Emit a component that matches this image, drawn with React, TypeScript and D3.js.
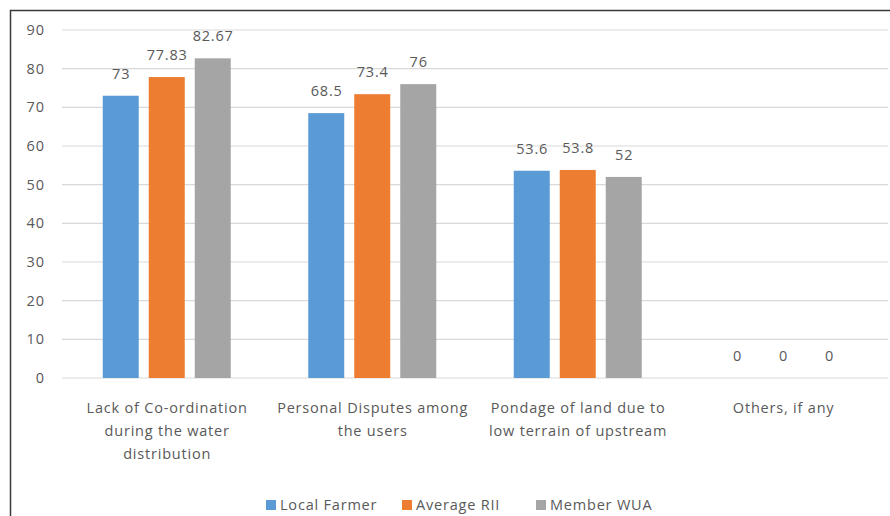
import React, { useEffect } from "react";
import * as d3 from "d3";

const categories = [
  ["Lack of Co-ordination", "during the water", "distribution"],
  ["Personal Disputes among", "the users"],
  ["Pondage of land due to", "low terrain of upstream"],
  ["Others, if any"],
];
const seriesNames = ["Local Farmer", "Average RII", "Member WUA"];
const localFarmer = [73, 68.5, 53.6, 0];
const averageRII = [77.83, 73.4, 53.8, 0];
const memberWUA = [82.67, 76, 52, 0];
const yTicks = [0, 10, 20, 30, 40, 50, 60, 70, 80, 90];
const colors = ["#5B9BD5", "#ED7D31", "#A5A5A5"];

const W = 890;
const H = 516;
const FONT = "'Open Sans', sans-serif";
const TEXT = "#595959";
const FS = 14.5;
const LS = 0.8;

export default function App() {
  useEffect(() => {
    document.body.style.margin = "0";
  }, []);

  const series = [localFarmer, averageRII, memberWUA];
  const x = d3
    .scaleBand<number>()
    .domain(d3.range(categories.length))
    .range([64, 886]);
  const groupW = 128;
  const inner = d3
    .scaleBand<number>()
    .domain(d3.range(series.length))
    .range([0, groupW])
    .paddingInner(0.2174);
  const y = d3.scaleLinear().domain([0, 90]).range([378, 30]);
  const groupOffset = (x.bandwidth() - groupW) / 2;

  const legendItems = [
    { x: 266, label: seriesNames[0] },
    { x: 402, label: seriesNames[1] },
    { x: 536, label: seriesNames[2] },
  ];

  return (
    <svg
      width={W}
      height={H}
      style={{ display: "block", background: "#fff", letterSpacing: `${LS}px` }}
      fontFamily={FONT}
    >
      {/* chart frame */}
      <path d={`M10.5,${H} V10.5 H${W}`} fill="none" stroke="#3a3a3a" strokeWidth={1.5} />

      {/* gridlines and y labels */}
      {yTicks.map((t) => (
        <g key={t}>
          <line x1={62} x2={888} y1={y(t)} y2={y(t)} stroke="#d9d9d9" strokeWidth={1.2} />
          <text x={44 + LS} y={y(t)} dy="0.35em" textAnchor="end" fontSize={FS} fill={TEXT}>
            {t}
          </text>
        </g>
      ))}

      {/* bars with value labels */}
      {categories.map((_, ci) =>
        series.map((vals, si) => {
          const bx = (x(ci) as number) + groupOffset + (inner(si) as number);
          const bw = inner.bandwidth();
          const v = vals[ci];
          return (
            <g key={`${ci}-${si}`}>
              {v > 0 && (
                <rect x={bx} y={y(v)} width={bw} height={y(0) - y(v)} fill={colors[si]} />
              )}
              <text
                x={bx + bw / 2 + LS / 2}
                y={y(v) - 17}
                textAnchor="middle"
                fontSize={FS}
                fill={TEXT}
              >
                {v}
              </text>
            </g>
          );
        })
      )}

      {/* category labels */}
      {categories.map((lines, ci) => {
        const cx = (x(ci) as number) + x.bandwidth() / 2 + LS / 2;
        return (
          <text key={ci} x={cx} y={413} textAnchor="middle" fontSize={FS} fill={TEXT}>
            {lines.map((l, li) => (
              <tspan key={li} x={cx} dy={li === 0 ? 0 : 23}>
                {l}
              </tspan>
            ))}
          </text>
        );
      })}

      {/* legend */}
      {legendItems.map((it, i) => (
        <g key={i}>
          <rect x={it.x} y={500} width={10} height={10} fill={colors[i]} />
          <text x={it.x + 14} y={510} fontSize={FS} fill={TEXT}>
            {it.label}
          </text>
        </g>
      ))}
    </svg>
  );
}
